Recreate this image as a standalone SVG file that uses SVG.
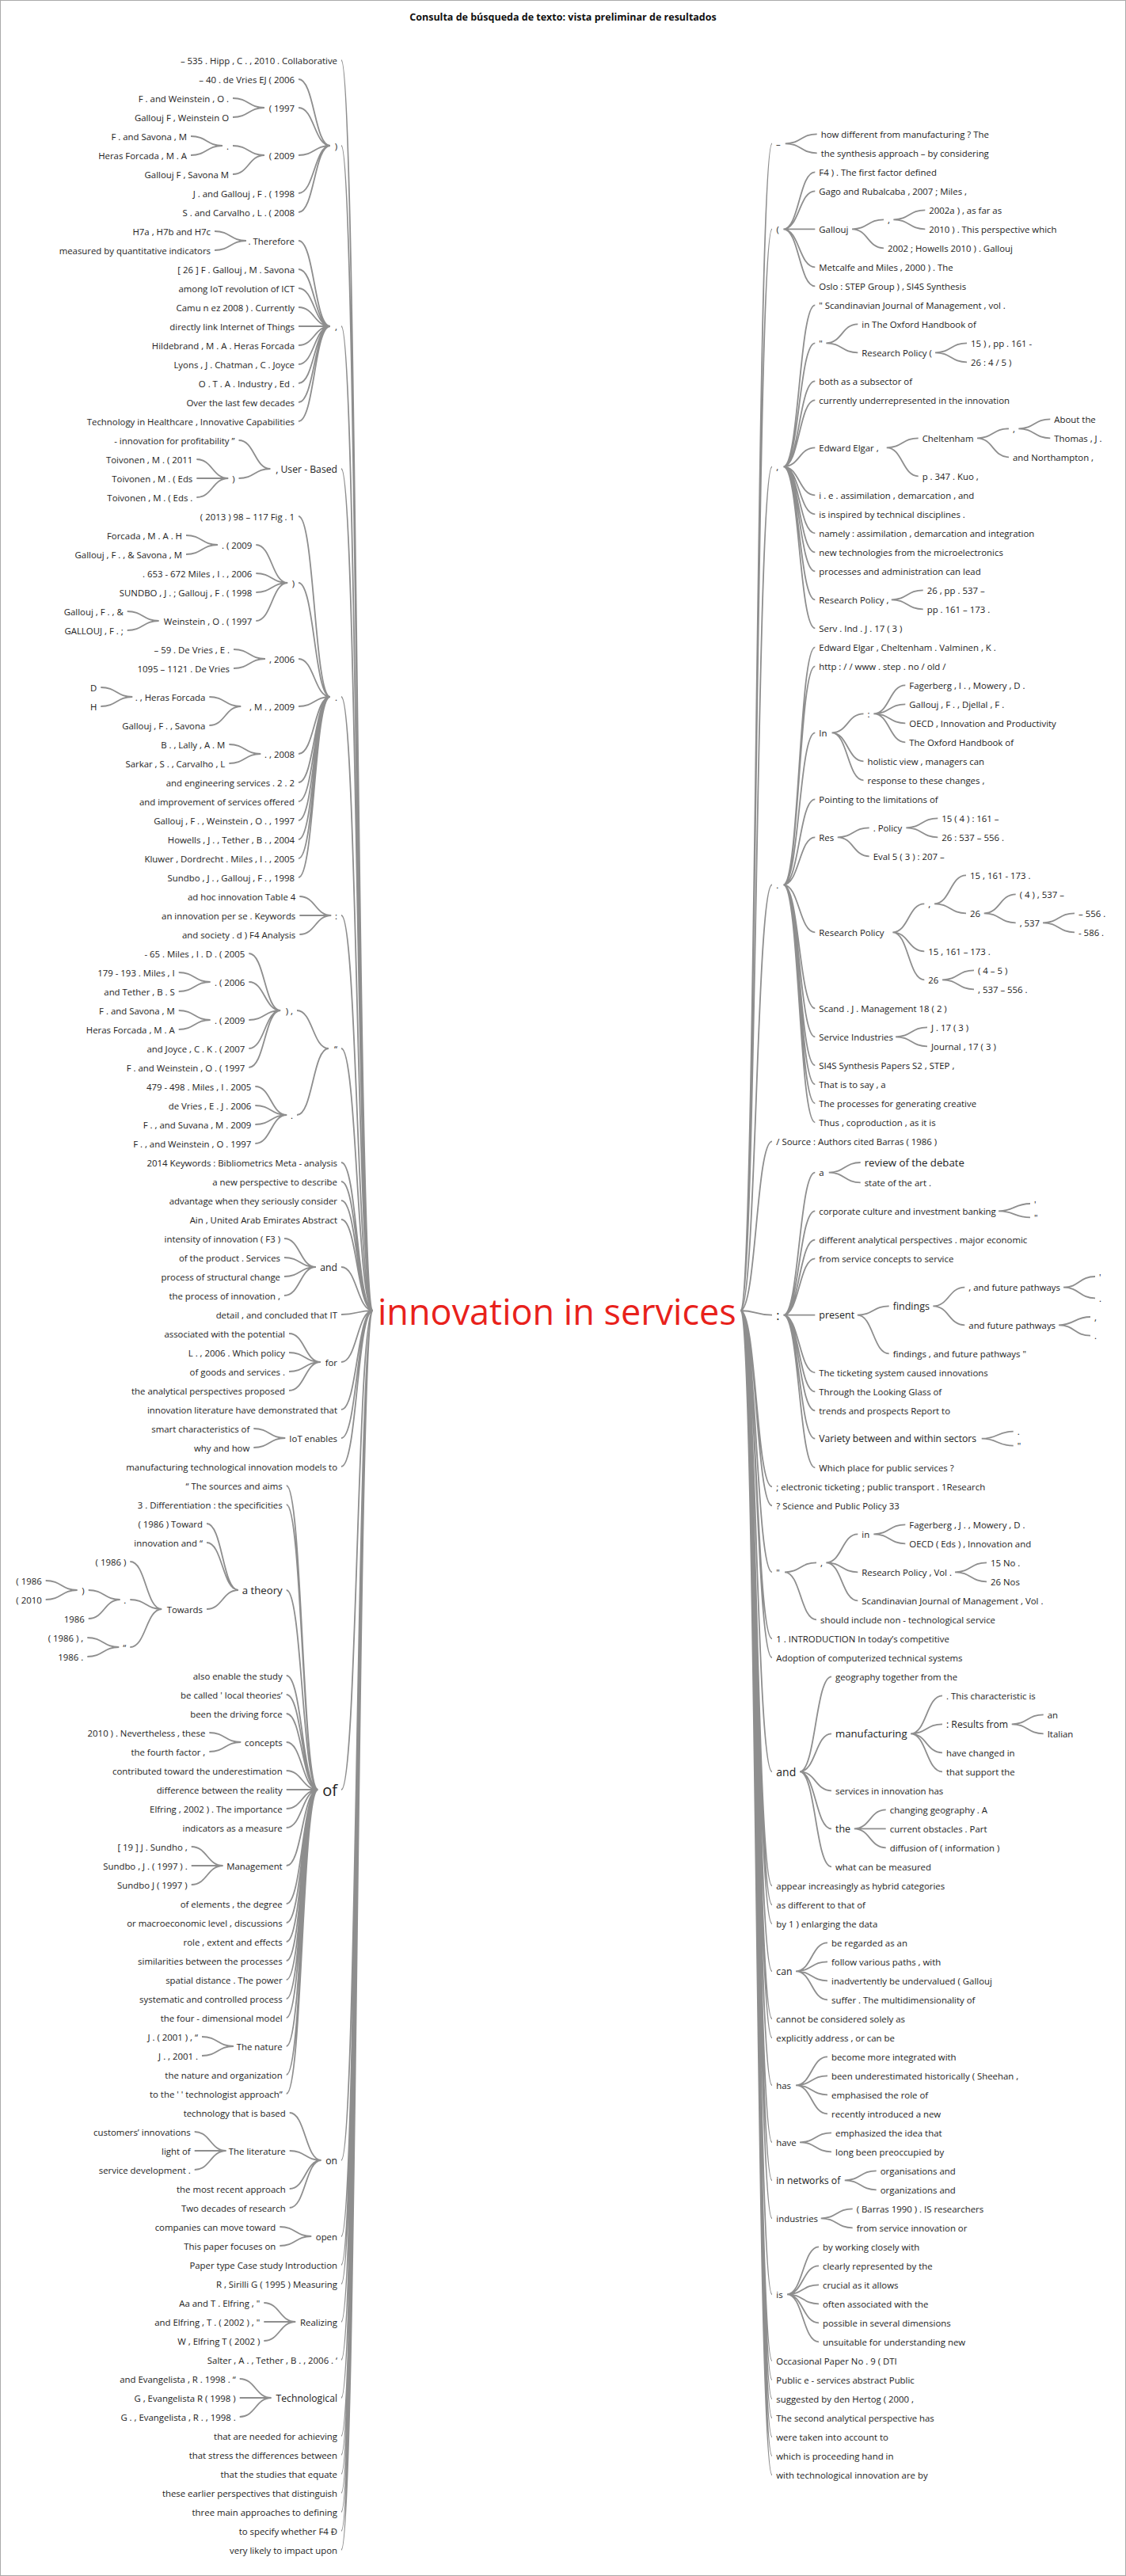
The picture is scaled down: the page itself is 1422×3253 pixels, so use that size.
<svg xmlns="http://www.w3.org/2000/svg" width="1422" height="3253" viewBox="0 0 1422 3253">
<style>
text{font-family:"Open Sans","Noto Sans",sans-serif;font-size:11.4px;fill:#222;dominant-baseline:central}
.e{text-anchor:end}
.t{font-weight:bold;font-size:12.5px;text-anchor:middle;fill:#111}
.root{font-size:45px;fill:#e8211b}
.f12{font-size:12.2px}.f125{font-size:12.5px}.f13{font-size:13.2px}.f14{font-size:14px}.f16{font-size:16px}.f20{font-size:20px}
#connectors path{fill:none;stroke:#8e8e8e;stroke-width:1.8}
</style>
<rect x="0.5" y="0.5" width="1421" height="3252" fill="#fff" stroke="#aaa"/>
<text class="t" x="711" y="21">Consulta de búsqueda de texto: vista preliminar de resultados</text>
<g id="connectors">
<path d="M431 76C451 76 451 1655 471 1655M431 184C451 184 451 1655 471 1655M431 412C451 412 451 1655 471 1655M431 592C451 592 451 1655 471 1655M431 880C451 880 451 1655 471 1655M431 1156C451 1156 451 1655 471 1655M431 1324C451 1324 451 1655 471 1655M431 1468C451 1468 451 1655 471 1655M431 1492C451 1492 451 1655 471 1655M431 1516C451 1516 451 1655 471 1655M431 1540C451 1540 451 1655 471 1655M431 1600C451 1600 451 1655 471 1655M431 1660C451 1660 451 1655 471 1655M431 1720C451 1720 451 1655 471 1655M431 1780C451 1780 451 1655 471 1655M431 1816C451 1816 451 1655 471 1655M431 1852C451 1852 451 1655 471 1655M431 2260C451 2260 451 1655 471 1655M431 2728C451 2728 451 1655 471 1655M431 2824C451 2824 451 1655 471 1655M431 2860C451 2860 451 1655 471 1655M431 2884C451 2884 451 1655 471 1655M431 2932C451 2932 451 1655 471 1655M431 2980C451 2980 451 1655 471 1655M431 3028C451 3028 451 1655 471 1655M431 3076C451 3076 451 1655 471 1655M431 3100C451 3100 451 1655 471 1655M431 3124C451 3124 451 1655 471 1655M431 3148C451 3148 451 1655 471 1655M431 3172C451 3172 451 1655 471 1655M431 3196C451 3196 451 1655 471 1655M431 3220C451 3220 451 1655 471 1655"/>
<path d="M377 100C397 100 397 184 417 184M377 136C397 136 397 184 417 184M377 196C397 196 397 184 417 184M377 244C397 244 397 184 417 184M377 268C397 268 397 184 417 184"/>
<path d="M294 124C314 124 314 136 334 136M294 148C314 148 314 136 334 136M294 184C314 184 314 196 334 196M294 220C314 220 314 196 334 196M241 172C261 172 261 184 281 184M241 196C261 196 261 184 281 184"/>
<path d="M377 304C397 304 397 412 417 412M377 340C397 340 397 412 417 412M377 364C397 364 397 412 417 412M377 388C397 388 397 412 417 412M377 412C397 412 397 412 417 412M377 436C397 436 397 412 417 412M377 460C397 460 397 412 417 412M377 484C397 484 397 412 417 412M377 508C397 508 397 412 417 412M377 532C397 532 397 412 417 412M271 292C291 292 291 304 311 304M271 316C291 316 291 304 311 304"/>
<path d="M301.5 556C321.5 556 321.5 592 341.5 592M301.5 604C321.5 604 321.5 592 341.5 592M248.3 580C268.3 580 268.3 604 288.3 604M248.3 604C268.3 604 268.3 604 288.3 604M248.3 628C268.3 628 268.3 604 288.3 604"/>
<path d="M377 652C397 652 397 880 417 880M377 736C397 736 397 880 417 880M377 832C397 832 397 880 417 880M377 892C397 892 397 880 417 880M377 952C397 952 397 880 417 880M377 988C397 988 397 880 417 880M377 1012C397 1012 397 880 417 880M377 1036C397 1036 397 880 417 880M377 1060C397 1060 397 880 417 880M377 1084C397 1084 397 880 417 880M377 1108C397 1108 397 880 417 880"/>
<path d="M323.3 688C343.3 688 343.3 736 363.3 736M323.3 724C343.3 724 343.3 736 363.3 736M323.3 748C343.3 748 343.3 736 363.3 736M323.3 784C343.3 784 343.3 736 363.3 736M235 676C255 676 255 688 275 688M235 700C255 700 255 688 275 688M160.7 772C180.7 772 180.7 784 200.7 784M160.7 796C180.7 796 180.7 784 200.7 784"/>
<path d="M295 820C315 820 315 832 335 832M295 844C315 844 315 832 335 832M264.3 880C284.3 880 284.3 892 304.3 892M264.3 916C284.3 916 284.3 892 304.3 892M127.3 868C147.3 868 147.3 880 167.3 880M127.3 892C147.3 892 147.3 880 167.3 880M289.3 940C309.3 940 309.3 952 329.3 952M289.3 964C309.3 964 309.3 952 329.3 952"/>
<path d="M378.3 1132C398.3 1132 398.3 1156 418.3 1156M378.3 1156C398.3 1156 398.3 1156 418.3 1156M378.3 1180C398.3 1180 398.3 1156 418.3 1156"/>
<path d="M375 1276C395 1276 395 1324 415 1324M375 1408C395 1408 395 1324 415 1324M314.3 1204C334.3 1204 334.3 1276 354.3 1276M314.3 1240C334.3 1240 334.3 1276 354.3 1276M314.3 1288C334.3 1288 334.3 1276 354.3 1276M314.3 1324C334.3 1324 334.3 1276 354.3 1276M314.3 1348C334.3 1348 334.3 1276 354.3 1276M225.7 1228C245.7 1228 245.7 1240 265.7 1240M225.7 1252C245.7 1252 245.7 1240 265.7 1240M225.7 1276C245.7 1276 245.7 1288 265.7 1288M225.7 1300C245.7 1300 245.7 1288 265.7 1288M322.3 1372C342.3 1372 342.3 1408 362.3 1408M322.3 1396C342.3 1396 342.3 1408 362.3 1408M322.3 1420C342.3 1420 342.3 1408 362.3 1408M322.3 1444C342.3 1444 342.3 1408 362.3 1408"/>
<path d="M359 1564C379 1564 379 1600 399 1600M359 1588C379 1588 379 1600 399 1600M359 1612C379 1612 379 1600 399 1600M359 1636C379 1636 379 1600 399 1600M365 1684C385 1684 385 1720 405 1720M365 1708C385 1708 385 1720 405 1720M365 1732C385 1732 385 1720 405 1720M365 1756C385 1756 385 1720 405 1720M320.3 1804C340.3 1804 340.3 1816 360.3 1816M320.3 1828C340.3 1828 340.3 1816 360.3 1816"/>
<path d="M361.7 1876C381.7 1876 381.7 2260 401.7 2260M361.7 1900C381.7 1900 381.7 2260 401.7 2260M361.7 2008C381.7 2008 381.7 2260 401.7 2260M361.7 2116C381.7 2116 381.7 2260 401.7 2260M361.7 2140C381.7 2140 381.7 2260 401.7 2260M361.7 2164C381.7 2164 381.7 2260 401.7 2260M361.7 2200C381.7 2200 381.7 2260 401.7 2260M361.7 2236C381.7 2236 381.7 2260 401.7 2260M361.7 2260C381.7 2260 381.7 2260 401.7 2260M361.7 2284C381.7 2284 381.7 2260 401.7 2260M361.7 2308C381.7 2308 381.7 2260 401.7 2260M361.7 2356C381.7 2356 381.7 2260 401.7 2260M361.7 2404C381.7 2404 381.7 2260 401.7 2260M361.7 2428C381.7 2428 381.7 2260 401.7 2260M361.7 2452C381.7 2452 381.7 2260 401.7 2260M361.7 2476C381.7 2476 381.7 2260 401.7 2260M361.7 2500C381.7 2500 381.7 2260 401.7 2260M361.7 2524C381.7 2524 381.7 2260 401.7 2260M361.7 2548C381.7 2548 381.7 2260 401.7 2260M361.7 2584C381.7 2584 381.7 2260 401.7 2260M361.7 2620C381.7 2620 381.7 2260 401.7 2260M361.7 2644C381.7 2644 381.7 2260 401.7 2260"/>
<path d="M261 1924C281 1924 281 2008 301 2008M261 1948C281 1948 281 2008 301 2008M261 2032C281 2032 281 2008 301 2008M164.3 1972C184.3 1972 184.3 2032 204.3 2032M164.3 2020C184.3 2020 184.3 2032 204.3 2032M164.3 2080C184.3 2080 184.3 2032 204.3 2032M111.7 2008C131.7 2008 131.7 2020 151.7 2020M111.7 2044C131.7 2044 131.7 2020 151.7 2020M57.7 1996C77.7 1996 77.7 2008 97.7 2008M57.7 2020C77.7 2020 77.7 2008 97.7 2008M110.3 2068C130.3 2068 130.3 2080 150.3 2080M110.3 2092C130.3 2092 130.3 2080 150.3 2080"/>
<path d="M264.3 2188C284.3 2188 284.3 2200 304.3 2200M264.3 2212C284.3 2212 284.3 2200 304.3 2200M241.7 2332C261.7 2332 261.7 2356 281.7 2356M241.7 2356C261.7 2356 261.7 2356 281.7 2356M241.7 2380C261.7 2380 261.7 2356 281.7 2356M255 2572C275 2572 275 2584 295 2584M255 2596C275 2596 275 2584 295 2584"/>
<path d="M365.7 2668C385.7 2668 385.7 2728 405.7 2728M365.7 2716C385.7 2716 385.7 2728 405.7 2728M365.7 2764C385.7 2764 385.7 2728 405.7 2728M365.7 2788C385.7 2788 385.7 2728 405.7 2728M245.7 2692C265.7 2692 265.7 2716 285.7 2716M245.7 2716C265.7 2716 265.7 2716 285.7 2716M245.7 2740C265.7 2740 265.7 2716 285.7 2716M353.3 2812C373.3 2812 373.3 2824 393.3 2824M353.3 2836C373.3 2836 373.3 2824 393.3 2824M333.3 2908C353.3 2908 353.3 2932 373.3 2932M333.3 2932C353.3 2932 353.3 2932 373.3 2932M333.3 2956C353.3 2956 353.3 2932 373.3 2932M302.7 3004C322.7 3004 322.7 3028 342.7 3028M302.7 3028C322.7 3028 322.7 3028 342.7 3028M302.7 3052C322.7 3052 322.7 3028 342.7 3028"/>
<path d="M935 1655C955 1655 955 181.3 975 181.3M935 1655C955 1655 955 289.3 975 289.3M935 1655C955 1655 955 589.3 975 589.3M935 1655C955 1655 955 1117.3 975 1117.3M935 1655C955 1655 955 1441.3 975 1441.3M935 1655C955 1655 955 1660.7 975 1660.7M935 1655C955 1655 955 1877.3 975 1877.3M935 1655C955 1655 955 1901.3 975 1901.3M935 1655C955 1655 955 1985.3 975 1985.3M935 1655C955 1655 955 2069.3 975 2069.3M935 1655C955 1655 955 2093.3 975 2093.3M935 1655C955 1655 955 2237.3 975 2237.3M935 1655C955 1655 955 2381.3 975 2381.3M935 1655C955 1655 955 2405.3 975 2405.3M935 1655C955 1655 955 2429.3 975 2429.3M935 1655C955 1655 955 2489.3 975 2489.3M935 1655C955 1655 955 2549.3 975 2549.3M935 1655C955 1655 955 2573.3 975 2573.3M935 1655C955 1655 955 2633.3 975 2633.3M935 1655C955 1655 955 2705.3 975 2705.3M935 1655C955 1655 955 2753.3 975 2753.3M935 1655C955 1655 955 2801.3 975 2801.3M935 1655C955 1655 955 2897.3 975 2897.3M935 1655C955 1655 955 2981.3 975 2981.3M935 1655C955 1655 955 3005.3 975 3005.3M935 1655C955 1655 955 3029.3 975 3029.3M935 1655C955 1655 955 3053.3 975 3053.3M935 1655C955 1655 955 3077.3 975 3077.3M935 1655C955 1655 955 3101.3 975 3101.3M935 1655C955 1655 955 3125.3 975 3125.3"/>
<path d="M991.7 181.3C1011.7 181.3 1011.7 169.3 1031.7 169.3M991.7 181.3C1011.7 181.3 1011.7 193.3 1031.7 193.3M989.3 289.3C1009.3 289.3 1009.3 217.3 1029.3 217.3M989.3 289.3C1009.3 289.3 1009.3 241.3 1029.3 241.3M989.3 289.3C1009.3 289.3 1009.3 289.3 1029.3 289.3M989.3 289.3C1009.3 289.3 1009.3 337.3 1029.3 337.3M989.3 289.3C1009.3 289.3 1009.3 361.3 1029.3 361.3M1076 289.3C1096 289.3 1096 277.3 1116 277.3M1076 289.3C1096 289.3 1096 313.3 1116 313.3M1128.3 277.3C1148.3 277.3 1148.3 265.3 1168.3 265.3M1128.3 277.3C1148.3 277.3 1148.3 289.3 1168.3 289.3"/>
<path d="M989.3 589.3C1009.3 589.3 1009.3 385.3 1029.3 385.3M989.3 589.3C1009.3 589.3 1009.3 433.3 1029.3 433.3M989.3 589.3C1009.3 589.3 1009.3 481.3 1029.3 481.3M989.3 589.3C1009.3 589.3 1009.3 505.3 1029.3 505.3M989.3 589.3C1009.3 589.3 1009.3 565.3 1029.3 565.3M989.3 589.3C1009.3 589.3 1009.3 625.3 1029.3 625.3M989.3 589.3C1009.3 589.3 1009.3 649.3 1029.3 649.3M989.3 589.3C1009.3 589.3 1009.3 673.3 1029.3 673.3M989.3 589.3C1009.3 589.3 1009.3 697.3 1029.3 697.3M989.3 589.3C1009.3 589.3 1009.3 721.3 1029.3 721.3M989.3 589.3C1009.3 589.3 1009.3 757.3 1029.3 757.3M989.3 589.3C1009.3 589.3 1009.3 793.3 1029.3 793.3M1043.3 433.3C1063.3 433.3 1063.3 409.3 1083.3 409.3M1043.3 433.3C1063.3 433.3 1063.3 445.3 1083.3 445.3M1181 445.3C1201 445.3 1201 433.3 1221 433.3M1181 445.3C1201 445.3 1201 457.3 1221 457.3M1119.7 565.3C1139.7 565.3 1139.7 553.3 1159.7 553.3M1119.7 565.3C1139.7 565.3 1139.7 601.3 1159.7 601.3M1234 553.3C1254 553.3 1254 541.3 1274 541.3M1234 553.3C1254 553.3 1254 577.3 1274 577.3M1286.3 541.3C1306.3 541.3 1306.3 529.3 1326.3 529.3M1286.3 541.3C1306.3 541.3 1306.3 553.3 1326.3 553.3M1125.7 757.3C1145.7 757.3 1145.7 745.3 1165.7 745.3M1125.7 757.3C1145.7 757.3 1145.7 769.3 1165.7 769.3"/>
<path d="M989.3 1117.3C1009.3 1117.3 1009.3 817.3 1029.3 817.3M989.3 1117.3C1009.3 1117.3 1009.3 841.3 1029.3 841.3M989.3 1117.3C1009.3 1117.3 1009.3 925.3 1029.3 925.3M989.3 1117.3C1009.3 1117.3 1009.3 1009.3 1029.3 1009.3M989.3 1117.3C1009.3 1117.3 1009.3 1057.3 1029.3 1057.3M989.3 1117.3C1009.3 1117.3 1009.3 1177.3 1029.3 1177.3M989.3 1117.3C1009.3 1117.3 1009.3 1273.3 1029.3 1273.3M989.3 1117.3C1009.3 1117.3 1009.3 1309.3 1029.3 1309.3M989.3 1117.3C1009.3 1117.3 1009.3 1345.3 1029.3 1345.3M989.3 1117.3C1009.3 1117.3 1009.3 1369.3 1029.3 1369.3M989.3 1117.3C1009.3 1117.3 1009.3 1393.3 1029.3 1393.3M989.3 1117.3C1009.3 1117.3 1009.3 1417.3 1029.3 1417.3"/>
<path d="M1050.5 925.3C1070.5 925.3 1070.5 901.3 1090.5 901.3M1050.5 925.3C1070.5 925.3 1070.5 961.3 1090.5 961.3M1050.5 925.3C1070.5 925.3 1070.5 985.3 1090.5 985.3M1103.3 901.3C1123.3 901.3 1123.3 865.3 1143.3 865.3M1103.3 901.3C1123.3 901.3 1123.3 889.3 1143.3 889.3M1103.3 901.3C1123.3 901.3 1123.3 913.3 1143.3 913.3M1103.3 901.3C1123.3 901.3 1123.3 937.3 1143.3 937.3M1057.7 1057.3C1077.7 1057.3 1077.7 1045.3 1097.7 1045.3M1057.7 1057.3C1077.7 1057.3 1077.7 1081.3 1097.7 1081.3M1144.3 1045.3C1164.3 1045.3 1164.3 1033.3 1184.3 1033.3M1144.3 1045.3C1164.3 1045.3 1164.3 1057.3 1184.3 1057.3"/>
<path d="M1127.3 1177.3C1147.3 1177.3 1147.3 1141.3 1167.3 1141.3M1127.3 1177.3C1147.3 1177.3 1147.3 1201.3 1167.3 1201.3M1127.3 1177.3C1147.3 1177.3 1147.3 1237.3 1167.3 1237.3M1180 1141.3C1200 1141.3 1200 1105.3 1220 1105.3M1180 1141.3C1200 1141.3 1200 1153.3 1220 1153.3M1242.7 1153.3C1262.7 1153.3 1262.7 1129.3 1282.7 1129.3M1242.7 1153.3C1262.7 1153.3 1262.7 1165.3 1282.7 1165.3M1317 1165.3C1337 1165.3 1337 1153.3 1357 1153.3M1317 1165.3C1337 1165.3 1337 1177.3 1357 1177.3M1190 1237.3C1210 1237.3 1210 1225.3 1230 1225.3M1190 1237.3C1210 1237.3 1210 1249.3 1230 1249.3M1131 1309.3C1151 1309.3 1151 1297.3 1171 1297.3M1131 1309.3C1151 1309.3 1151 1321.3 1171 1321.3"/>
<path d="M989.3 1660.7C1009.3 1660.7 1009.3 1480.7 1029.3 1480.7M989.3 1660.7C1009.3 1660.7 1009.3 1529.3 1029.3 1529.3M989.3 1660.7C1009.3 1660.7 1009.3 1565.7 1029.3 1565.7M989.3 1660.7C1009.3 1660.7 1009.3 1589.3 1029.3 1589.3M989.3 1660.7C1009.3 1660.7 1009.3 1660.7 1029.3 1660.7M989.3 1660.7C1009.3 1660.7 1009.3 1733.3 1029.3 1733.3M989.3 1660.7C1009.3 1660.7 1009.3 1757.3 1029.3 1757.3M989.3 1660.7C1009.3 1660.7 1009.3 1781.3 1029.3 1781.3M989.3 1660.7C1009.3 1660.7 1009.3 1816.7 1029.3 1816.7M989.3 1660.7C1009.3 1660.7 1009.3 1853.3 1029.3 1853.3M1046.7 1480.7C1066.7 1480.7 1066.7 1468 1086.7 1468M1046.7 1480.7C1066.7 1480.7 1066.7 1493.3 1086.7 1493.3M1261 1529.3C1281 1529.3 1281 1520 1301 1520M1261 1529.3C1281 1529.3 1281 1537.3 1301 1537.3"/>
<path d="M1082.7 1660.7C1102.7 1660.7 1102.7 1649.3 1122.7 1649.3M1082.7 1660.7C1102.7 1660.7 1102.7 1709.3 1122.7 1709.3M1178.3 1649.3C1198.3 1649.3 1198.3 1625.7 1218.3 1625.7M1178.3 1649.3C1198.3 1649.3 1198.3 1673.3 1218.3 1673.3M1343 1625.7C1363 1625.7 1363 1612 1383 1612M1343 1625.7C1363 1625.7 1363 1639.3 1383 1639.3M1337 1673.3C1357 1673.3 1357 1663 1377 1663M1337 1673.3C1357 1673.3 1357 1686.7 1377 1686.7M1239.7 1816.7C1259.7 1816.7 1259.7 1807.7 1279.7 1807.7M1239.7 1816.7C1259.7 1816.7 1259.7 1825.7 1279.7 1825.7"/>
<path d="M991 1985.3C1011 1985.3 1011 1973.3 1031 1973.3M991 1985.3C1011 1985.3 1011 2045.3 1031 2045.3M1043.3 1973.3C1063.3 1973.3 1063.3 1937.3 1083.3 1937.3M1043.3 1973.3C1063.3 1973.3 1063.3 1985.3 1083.3 1985.3M1043.3 1973.3C1063.3 1973.3 1063.3 2021.3 1083.3 2021.3M1103.3 1937.3C1123.3 1937.3 1123.3 1925.3 1143.3 1925.3M1103.3 1937.3C1123.3 1937.3 1123.3 1949.3 1143.3 1949.3M1206 1985.3C1226 1985.3 1226 1973.3 1246 1973.3M1206 1985.3C1226 1985.3 1226 1997.3 1246 1997.3"/>
<path d="M1010 2237.3C1030 2237.3 1030 2117.3 1050 2117.3M1010 2237.3C1030 2237.3 1030 2189.3 1050 2189.3M1010 2237.3C1030 2237.3 1030 2261.3 1050 2261.3M1010 2237.3C1030 2237.3 1030 2309.3 1050 2309.3M1010 2237.3C1030 2237.3 1030 2357.3 1050 2357.3M1150 2189.3C1170 2189.3 1170 2141.3 1190 2141.3M1150 2189.3C1170 2189.3 1170 2177.3 1190 2177.3M1150 2189.3C1170 2189.3 1170 2213.3 1190 2213.3M1150 2189.3C1170 2189.3 1170 2237.3 1190 2237.3M1277.7 2177.3C1297.7 2177.3 1297.7 2165.3 1317.7 2165.3M1277.7 2177.3C1297.7 2177.3 1297.7 2189.3 1317.7 2189.3M1078.7 2309.3C1098.7 2309.3 1098.7 2285.3 1118.7 2285.3M1078.7 2309.3C1098.7 2309.3 1098.7 2309.3 1118.7 2309.3M1078.7 2309.3C1098.7 2309.3 1098.7 2333.3 1118.7 2333.3"/>
<path d="M1005 2489.3C1025 2489.3 1025 2453.3 1045 2453.3M1005 2489.3C1025 2489.3 1025 2477.3 1045 2477.3M1005 2489.3C1025 2489.3 1025 2501.3 1045 2501.3M1005 2489.3C1025 2489.3 1025 2525.3 1045 2525.3M1005 2633.3C1025 2633.3 1025 2597.3 1045 2597.3M1005 2633.3C1025 2633.3 1025 2621.3 1045 2621.3M1005 2633.3C1025 2633.3 1025 2645.3 1045 2645.3M1005 2633.3C1025 2633.3 1025 2669.3 1045 2669.3M1010 2705.3C1030 2705.3 1030 2693.3 1050 2693.3M1010 2705.3C1030 2705.3 1030 2717.3 1050 2717.3M1066.7 2753.3C1086.7 2753.3 1086.7 2741.3 1106.7 2741.3M1066.7 2753.3C1086.7 2753.3 1086.7 2765.3 1106.7 2765.3M1036.7 2801.3C1056.7 2801.3 1056.7 2789.3 1076.7 2789.3M1036.7 2801.3C1056.7 2801.3 1056.7 2813.3 1076.7 2813.3M994 2897.3C1014 2897.3 1014 2837.3 1034 2837.3M994 2897.3C1014 2897.3 1014 2861.3 1034 2861.3M994 2897.3C1014 2897.3 1014 2885.3 1034 2885.3M994 2897.3C1014 2897.3 1014 2909.3 1034 2909.3M994 2897.3C1014 2897.3 1014 2933.3 1034 2933.3M994 2897.3C1014 2897.3 1014 2957.3 1034 2957.3"/>
</g>
<g id="root"><text class="root" x="477" y="1655">innovation in services</text></g>
<g id="left">
<g id="L1"><text class="e" x="426" y="76">– 535 . Hipp , C . , 2010 . Collaborative</text></g>
<g id="L2"><text class="e" x="426" y="184">)</text></g>
<g id="L2a"><text class="e" x="372" y="100">– 40 . de Vries EJ ( 2006</text></g>
<g id="L2b"><text class="e" x="372" y="136">( 1997</text></g>
<g id="L2b1"><text class="e" x="289" y="124">F . and Weinstein , O .</text></g>
<g id="L2b2"><text class="e" x="289" y="148">Gallouj F , Weinstein O</text></g>
<g id="L2c"><text class="e" x="372" y="196">( 2009</text></g>
<g id="L2c1"><text class="e" x="289" y="184">.</text></g>
<g id="L2c1a"><text class="e" x="236" y="172">F . and Savona , M</text></g>
<g id="L2c1b"><text class="e" x="236" y="196">Heras Forcada , M . A</text></g>
<g id="L2c2"><text class="e" x="289" y="220">Gallouj F , Savona M</text></g>
<g id="L2d"><text class="e" x="372" y="244">J . and Gallouj , F . ( 1998</text></g>
<g id="L2e"><text class="e" x="372" y="268">S . and Carvalho , L . ( 2008</text></g>
<g id="L3"><text class="e" x="426" y="412">,</text></g>
<g id="L3a"><text class="e" x="372" y="304">. Therefore</text></g>
<g id="L3a1"><text class="e" x="266" y="292">H7a , H7b and H7c</text></g>
<g id="L3a2"><text class="e" x="266" y="316">measured by quantitative indicators</text></g>
<g id="L3b"><text class="e" x="372" y="340">[ 26 ] F . Gallouj , M . Savona</text></g>
<g id="L3c"><text class="e" x="372" y="364">among IoT revolution of ICT</text></g>
<g id="L3d"><text class="e" x="372" y="388">Camu n ez 2008 ) . Currently</text></g>
<g id="L3e"><text class="e" x="372" y="412">directly link Internet of Things</text></g>
<g id="L3f"><text class="e" x="372" y="436">Hildebrand , M . A . Heras Forcada</text></g>
<g id="L3g"><text class="e" x="372" y="460">Lyons , J . Chatman , C . Joyce</text></g>
<g id="L3h"><text class="e" x="372" y="484">O . T . A . Industry , Ed .</text></g>
<g id="L3i"><text class="e" x="372" y="508">Over the last few decades</text></g>
<g id="L3j"><text class="e" x="372" y="532">Technology in Healthcare , Innovative Capabilities</text></g>
<g id="L4"><text class="e f12" x="426" y="592">, User - Based</text></g>
<g id="L4a"><text class="e" x="296.5" y="556">- innovation for profitability ”</text></g>
<g id="L4b"><text class="e" x="296.5" y="604">)</text></g>
<g id="L4b1"><text class="e" x="243.3" y="580">Toivonen , M . ( 2011</text></g>
<g id="L4b2"><text class="e" x="243.3" y="604">Toivonen , M . ( Eds</text></g>
<g id="L4b3"><text class="e" x="243.3" y="628">Toivonen , M . ( Eds .</text></g>
<g id="L5"><text class="e" x="426" y="880">.</text></g>
<g id="L5a"><text class="e" x="372" y="652">( 2013 ) 98 – 117 Fig . 1</text></g>
<g id="L5b"><text class="e" x="372" y="736">)</text></g>
<g id="L5b1"><text class="e" x="318.3" y="688">. ( 2009</text></g>
<g id="L5b1a"><text class="e" x="230" y="676">Forcada , M . A . H</text></g>
<g id="L5b1b"><text class="e" x="230" y="700">Gallouj , F . , &amp; Savona , M</text></g>
<g id="L5b2"><text class="e" x="318.3" y="724">. 653 - 672 Miles , I . , 2006</text></g>
<g id="L5b3"><text class="e" x="318.3" y="748">SUNDBO , J . ; Gallouj , F . ( 1998</text></g>
<g id="L5b4"><text class="e" x="318.3" y="784">Weinstein , O . ( 1997</text></g>
<g id="L5b4a"><text class="e" x="155.7" y="772">Gallouj , F . , &amp;</text></g>
<g id="L5b4b"><text class="e" x="155.7" y="796">GALLOUJ , F . ;</text></g>
<g id="L5c"><text class="e" x="372" y="832">, 2006</text></g>
<g id="L5c1"><text class="e" x="290" y="820">– 59 . De Vries , E .</text></g>
<g id="L5c2"><text class="e" x="290" y="844">1095 – 1121 . De Vries</text></g>
<g id="L5d"><text class="e" x="372" y="892">, M . , 2009</text></g>
<g id="L5d1"><text class="e" x="259.3" y="880">. , Heras Forcada</text></g>
<g id="L5d1a"><text class="e" x="122.3" y="868">D</text></g>
<g id="L5d1b"><text class="e" x="122.3" y="892">H</text></g>
<g id="L5d2"><text class="e" x="259.3" y="916">Gallouj , F . , Savona</text></g>
<g id="L5e"><text class="e" x="372" y="952">. , 2008</text></g>
<g id="L5e1"><text class="e" x="284.3" y="940">B . , Lally , A . M</text></g>
<g id="L5e2"><text class="e" x="284.3" y="964">Sarkar , S . , Carvalho , L</text></g>
<g id="L5f"><text class="e" x="372" y="988">and engineering services . 2 . 2</text></g>
<g id="L5g"><text class="e" x="372" y="1012">and improvement of services offered</text></g>
<g id="L5h"><text class="e" x="372" y="1036">Gallouj , F . , Weinstein , O . , 1997</text></g>
<g id="L5i"><text class="e" x="372" y="1060">Howells , J . , Tether , B . , 2004</text></g>
<g id="L5j"><text class="e" x="372" y="1084">Kluwer , Dordrecht . Miles , I . , 2005</text></g>
<g id="L5k"><text class="e" x="372" y="1108">Sundbo , J . , Gallouj , F . , 1998</text></g>
<g id="L6"><text class="e" x="426" y="1156">:</text></g>
<g id="L6a"><text class="e" x="373.3" y="1132">ad hoc innovation Table 4</text></g>
<g id="L6b"><text class="e" x="373.3" y="1156">an innovation per se . Keywords</text></g>
<g id="L6c"><text class="e" x="373.3" y="1180">and society . d ) F4 Analysis</text></g>
<g id="L7"><text class="e" x="426" y="1324">“</text></g>
<g id="L7a"><text class="e" x="370" y="1276">) ,</text></g>
<g id="L7a1"><text class="e" x="309.3" y="1204">- 65 . Miles , I . D . ( 2005</text></g>
<g id="L7a2"><text class="e" x="309.3" y="1240">. ( 2006</text></g>
<g id="L7a2a"><text class="e" x="220.7" y="1228">179 - 193 . Miles , I</text></g>
<g id="L7a2b"><text class="e" x="220.7" y="1252">and Tether , B . S</text></g>
<g id="L7a3"><text class="e" x="309.3" y="1288">. ( 2009</text></g>
<g id="L7a3a"><text class="e" x="220.7" y="1276">F . and Savona , M</text></g>
<g id="L7a3b"><text class="e" x="220.7" y="1300">Heras Forcada , M . A</text></g>
<g id="L7a4"><text class="e" x="309.3" y="1324">and Joyce , C . K . ( 2007</text></g>
<g id="L7a5"><text class="e" x="309.3" y="1348">F . and Weinstein , O . ( 1997</text></g>
<g id="L7b"><text class="e" x="370" y="1408">.</text></g>
<g id="L7b1"><text class="e" x="317.3" y="1372">479 - 498 . Miles , I . 2005</text></g>
<g id="L7b2"><text class="e" x="317.3" y="1396">de Vries , E . J . 2006</text></g>
<g id="L7b3"><text class="e" x="317.3" y="1420">F . , and Suvana , M . 2009</text></g>
<g id="L7b4"><text class="e" x="317.3" y="1444">F . , and Weinstein , O . 1997</text></g>
<g id="L8"><text class="e" x="426" y="1468">2014 Keywords : Bibliometrics Meta - analysis</text></g>
<g id="L9"><text class="e" x="426" y="1492">a new perspective to describe</text></g>
<g id="L10"><text class="e" x="426" y="1516">advantage when they seriously consider</text></g>
<g id="L11"><text class="e" x="426" y="1540">Ain , United Arab Emirates Abstract</text></g>
<g id="L12"><text class="e f12" x="426" y="1600">and</text></g>
<g id="L12a"><text class="e" x="354" y="1564">intensity of innovation ( F3 )</text></g>
<g id="L12b"><text class="e" x="354" y="1588">of the product . Services</text></g>
<g id="L12c"><text class="e" x="354" y="1612">process of structural change</text></g>
<g id="L12d"><text class="e" x="354" y="1636">the process of innovation ,</text></g>
<g id="L13"><text class="e" x="426" y="1660">detail , and concluded that IT</text></g>
<g id="L14"><text class="e" x="426" y="1720">for</text></g>
<g id="L14a"><text class="e" x="360" y="1684">associated with the potential</text></g>
<g id="L14b"><text class="e" x="360" y="1708">L . , 2006 . Which policy</text></g>
<g id="L14c"><text class="e" x="360" y="1732">of goods and services .</text></g>
<g id="L14d"><text class="e" x="360" y="1756">the analytical perspectives proposed</text></g>
<g id="L15"><text class="e" x="426" y="1780">innovation literature have demonstrated that</text></g>
<g id="L16"><text class="e" x="426" y="1816">IoT enables</text></g>
<g id="L16a"><text class="e" x="315.3" y="1804">smart characteristics of</text></g>
<g id="L16b"><text class="e" x="315.3" y="1828">why and how</text></g>
<g id="L17"><text class="e" x="426" y="1852">manufacturing technological innovation models to</text></g>
<g id="L18"><text class="e f20" x="426" y="2260">of</text></g>
<g id="L18a"><text class="e" x="356.7" y="1876">“ The sources and aims</text></g>
<g id="L18b"><text class="e" x="356.7" y="1900">3 . Differentiation : the specificities</text></g>
<g id="L18c"><text class="e f13" x="356.7" y="2008">a theory</text></g>
<g id="L18c1"><text class="e" x="256" y="1924">( 1986 ) Toward</text></g>
<g id="L18c2"><text class="e" x="256" y="1948">innovation and “</text></g>
<g id="L18c3"><text class="e" x="256" y="2032">Towards</text></g>
<g id="L18c3a"><text class="e" x="159.3" y="1972">( 1986 )</text></g>
<g id="L18c3b"><text class="e" x="159.3" y="2020">.</text></g>
<g id="L18c3b1"><text class="e" x="106.7" y="2008">)</text></g>
<g id="L18c3b1a"><text class="e" x="52.7" y="1996">( 1986</text></g>
<g id="L18c3b1b"><text class="e" x="52.7" y="2020">( 2010</text></g>
<g id="L18c3b2"><text class="e" x="106.7" y="2044">1986</text></g>
<g id="L18c3c"><text class="e" x="159.3" y="2080">“</text></g>
<g id="L18c3c1"><text class="e" x="105.3" y="2068">( 1986 ) ,</text></g>
<g id="L18c3c2"><text class="e" x="105.3" y="2092">1986 .</text></g>
<g id="L18d"><text class="e" x="356.7" y="2116">also enable the study</text></g>
<g id="L18e"><text class="e" x="356.7" y="2140">be called ' local theories’</text></g>
<g id="L18f"><text class="e" x="356.7" y="2164">been the driving force</text></g>
<g id="L18g"><text class="e" x="356.7" y="2200">concepts</text></g>
<g id="L18g1"><text class="e" x="259.3" y="2188">2010 ) . Nevertheless , these</text></g>
<g id="L18g2"><text class="e" x="259.3" y="2212">the fourth factor ,</text></g>
<g id="L18h"><text class="e" x="356.7" y="2236">contributed toward the underestimation</text></g>
<g id="L18i"><text class="e" x="356.7" y="2260">difference between the reality</text></g>
<g id="L18j"><text class="e" x="356.7" y="2284">Elfring , 2002 ) . The importance</text></g>
<g id="L18k"><text class="e" x="356.7" y="2308">indicators as a measure</text></g>
<g id="L18l"><text class="e" x="356.7" y="2356">Management</text></g>
<g id="L18l1"><text class="e" x="236.7" y="2332">[ 19 ] J . Sundho ,</text></g>
<g id="L18l2"><text class="e" x="236.7" y="2356">Sundbo , J . ( 1997 ) .</text></g>
<g id="L18l3"><text class="e" x="236.7" y="2380">Sundbo J ( 1997 )</text></g>
<g id="L18m"><text class="e" x="356.7" y="2404">of elements , the degree</text></g>
<g id="L18n"><text class="e" x="356.7" y="2428">or macroeconomic level , discussions</text></g>
<g id="L18o"><text class="e" x="356.7" y="2452">role , extent and effects</text></g>
<g id="L18p"><text class="e" x="356.7" y="2476">similarities between the processes</text></g>
<g id="L18q"><text class="e" x="356.7" y="2500">spatial distance . The power</text></g>
<g id="L18r"><text class="e" x="356.7" y="2524">systematic and controlled process</text></g>
<g id="L18s"><text class="e" x="356.7" y="2548">the four - dimensional model</text></g>
<g id="L18t"><text class="e" x="356.7" y="2584">The nature</text></g>
<g id="L18t1"><text class="e" x="250" y="2572">J . ( 2001 ) , “</text></g>
<g id="L18t2"><text class="e" x="250" y="2596">J . , 2001 .</text></g>
<g id="L18u"><text class="e" x="356.7" y="2620">the nature and organization</text></g>
<g id="L18v"><text class="e" x="356.7" y="2644">to the ' ' technologist approach”</text></g>
<g id="L19"><text class="e f12" x="426" y="2728">on</text></g>
<g id="L19a"><text class="e" x="360.7" y="2668">technology that is based</text></g>
<g id="L19b"><text class="e" x="360.7" y="2716">The literature</text></g>
<g id="L19b1"><text class="e" x="240.7" y="2692">customers’ innovations</text></g>
<g id="L19b2"><text class="e" x="240.7" y="2716">light of</text></g>
<g id="L19b3"><text class="e" x="240.7" y="2740">service development .</text></g>
<g id="L19c"><text class="e" x="360.7" y="2764">the most recent approach</text></g>
<g id="L19d"><text class="e" x="360.7" y="2788">Two decades of research</text></g>
<g id="L20"><text class="e" x="426" y="2824">open</text></g>
<g id="L20a"><text class="e" x="348.3" y="2812">companies can move toward</text></g>
<g id="L20b"><text class="e" x="348.3" y="2836">This paper focuses on</text></g>
<g id="L21"><text class="e" x="426" y="2860">Paper type Case study Introduction</text></g>
<g id="L22"><text class="e" x="426" y="2884">R , Sirilli G ( 1995 ) Measuring</text></g>
<g id="L23"><text class="e" x="426" y="2932">Realizing</text></g>
<g id="L23a"><text class="e" x="328.3" y="2908">Aa and T . Elfring , "</text></g>
<g id="L23b"><text class="e" x="328.3" y="2932">and Elfring , T . ( 2002 ) , "</text></g>
<g id="L23c"><text class="e" x="328.3" y="2956">W , Elfring T ( 2002 )</text></g>
<g id="L24"><text class="e" x="426" y="2980">Salter , A . , Tether , B . , 2006 . ‘</text></g>
<g id="L25"><text class="e f12" x="426" y="3028">Technological</text></g>
<g id="L25a"><text class="e" x="297.7" y="3004">and Evangelista , R . 1998 . “</text></g>
<g id="L25b"><text class="e" x="297.7" y="3028">G , Evangelista R ( 1998 )</text></g>
<g id="L25c"><text class="e" x="297.7" y="3052">G . , Evangelista , R . , 1998 .</text></g>
<g id="L26"><text class="e" x="426" y="3076">that are needed for achieving</text></g>
<g id="L27"><text class="e" x="426" y="3100">that stress the differences between</text></g>
<g id="L28"><text class="e" x="426" y="3124">that the studies that equate</text></g>
<g id="L29"><text class="e" x="426" y="3148">these earlier perspectives that distinguish</text></g>
<g id="L30"><text class="e" x="426" y="3172">three main approaches to defining</text></g>
<g id="L31"><text class="e" x="426" y="3196">to specify whether F4 Ð</text></g>
<g id="L32"><text class="e" x="426" y="3220">very likely to impact upon</text></g>
</g>
<g id="right">
<g id="R1"><text x="980" y="181.3">–</text></g>
<g id="R1a"><text x="1036.7" y="169.3">how different from manufacturing ? The</text></g>
<g id="R1b"><text x="1036.7" y="193.3">the synthesis approach – by considering</text></g>
<g id="R2"><text x="980.5" y="289.3">(</text></g>
<g id="R2a"><text x="1034.3" y="217.3">F4 ) . The first factor defined</text></g>
<g id="R2b"><text x="1034.3" y="241.3">Gago and Rubalcaba , 2007 ; Miles ,</text></g>
<g id="R2c"><text x="1034.3" y="289.3">Gallouj</text></g>
<g id="R2c1"><text x="1121" y="277.3">,</text></g>
<g id="R2c1a"><text x="1173.3" y="265.3">2002a ) , as far as</text></g>
<g id="R2c1b"><text x="1173.3" y="289.3">2010 ) . This perspective which</text></g>
<g id="R2c2"><text x="1121" y="313.3">2002 ; Howells 2010 ) . Gallouj</text></g>
<g id="R2d"><text x="1034.3" y="337.3">Metcalfe and Miles , 2000 ) . The</text></g>
<g id="R2e"><text x="1034.3" y="361.3">Oslo : STEP Group ) , SI4S Synthesis</text></g>
<g id="R3"><text x="980.3" y="589.3">,</text></g>
<g id="R3a"><text x="1034.3" y="385.3">" Scandinavian Journal of Management , vol .</text></g>
<g id="R3b"><text x="1034.3" y="433.3">"</text></g>
<g id="R3b1"><text x="1088.3" y="409.3">in The Oxford Handbook of</text></g>
<g id="R3b2"><text x="1088.3" y="445.3">Research Policy (</text></g>
<g id="R3b2a"><text x="1226" y="433.3">15 ) , pp . 161 -</text></g>
<g id="R3b2b"><text x="1226" y="457.3">26 : 4 / 5 )</text></g>
<g id="R3c"><text x="1034.3" y="481.3">both as a subsector of</text></g>
<g id="R3d"><text x="1034.3" y="505.3">currently underrepresented in the innovation</text></g>
<g id="R3e"><text x="1034.3" y="565.3">Edward Elgar ,</text></g>
<g id="R3e1"><text x="1164.7" y="553.3">Cheltenham</text></g>
<g id="R3e1a"><text x="1279" y="541.3">,</text></g>
<g id="R3e1a1"><text x="1331.3" y="529.3">About the</text></g>
<g id="R3e1a2"><text x="1331.3" y="553.3">Thomas , J .</text></g>
<g id="R3e1b"><text x="1279" y="577.3">and Northampton ,</text></g>
<g id="R3e2"><text x="1164.7" y="601.3">p . 347 . Kuo ,</text></g>
<g id="R3f"><text x="1034.3" y="625.3">i . e . assimilation , demarcation , and</text></g>
<g id="R3g"><text x="1034.3" y="649.3">is inspired by technical disciplines .</text></g>
<g id="R3h"><text x="1034.3" y="673.3">namely : assimilation , demarcation and integration</text></g>
<g id="R3i"><text x="1034.3" y="697.3">new technologies from the microelectronics</text></g>
<g id="R3j"><text x="1034.3" y="721.3">processes and administration can lead</text></g>
<g id="R3k"><text x="1034.3" y="757.3">Research Policy ,</text></g>
<g id="R3k1"><text x="1170.7" y="745.3">26 , pp . 537 –</text></g>
<g id="R3k2"><text x="1170.7" y="769.3">pp . 161 – 173 .</text></g>
<g id="R3l"><text x="1034.3" y="793.3">Serv . Ind . J . 17 ( 3 )</text></g>
<g id="R4"><text x="980.3" y="1117.3">.</text></g>
<g id="R4a"><text x="1034.3" y="817.3">Edward Elgar , Cheltenham . Valminen , K .</text></g>
<g id="R4b"><text x="1034.3" y="841.3">http : / / www . step . no / old /</text></g>
<g id="R4c"><text x="1034.3" y="925.3">In</text></g>
<g id="R4c1"><text x="1095.5" y="901.3">:</text></g>
<g id="R4c1a"><text x="1148.3" y="865.3">Fagerberg , I . , Mowery , D .</text></g>
<g id="R4c1b"><text x="1148.3" y="889.3">Gallouj , F . , Djellal , F .</text></g>
<g id="R4c1c"><text x="1148.3" y="913.3">OECD , Innovation and Productivity</text></g>
<g id="R4c1d"><text x="1148.3" y="937.3">The Oxford Handbook of</text></g>
<g id="R4c2"><text x="1095.5" y="961.3">holistic view , managers can</text></g>
<g id="R4c3"><text x="1095.5" y="985.3">response to these changes ,</text></g>
<g id="R4d"><text x="1034.3" y="1009.3">Pointing to the limitations of</text></g>
<g id="R4e"><text x="1034.3" y="1057.3">Res</text></g>
<g id="R4e1"><text x="1102.7" y="1045.3">. Policy</text></g>
<g id="R4e1a"><text x="1189.3" y="1033.3">15 ( 4 ) : 161 –</text></g>
<g id="R4e1b"><text x="1189.3" y="1057.3">26 : 537 – 556 .</text></g>
<g id="R4e2"><text x="1102.7" y="1081.3">Eval 5 ( 3 ) : 207 –</text></g>
<g id="R4f"><text x="1034.3" y="1177.3">Research Policy</text></g>
<g id="R4f1"><text x="1172.3" y="1141.3">,</text></g>
<g id="R4f1a"><text x="1225" y="1105.3">15 , 161 - 173 .</text></g>
<g id="R4f1b"><text x="1225" y="1153.3">26</text></g>
<g id="R4f1b1"><text x="1287.7" y="1129.3">( 4 ) , 537 –</text></g>
<g id="R4f1b2"><text x="1287.7" y="1165.3">, 537</text></g>
<g id="R4f1b2a"><text x="1362" y="1153.3">– 556 .</text></g>
<g id="R4f1b2b"><text x="1362" y="1177.3">- 586 .</text></g>
<g id="R4f2"><text x="1172.3" y="1201.3">15 , 161 – 173 .</text></g>
<g id="R4f3"><text x="1172.3" y="1237.3">26</text></g>
<g id="R4f3a"><text x="1235" y="1225.3">( 4 – 5 )</text></g>
<g id="R4f3b"><text x="1235" y="1249.3">, 537 – 556 .</text></g>
<g id="R4g"><text x="1034.3" y="1273.3">Scand . J . Management 18 ( 2 )</text></g>
<g id="R4h"><text x="1034.3" y="1309.3">Service Industries</text></g>
<g id="R4h1"><text x="1176" y="1297.3">J . 17 ( 3 )</text></g>
<g id="R4h2"><text x="1176" y="1321.3">Journal , 17 ( 3 )</text></g>
<g id="R4i"><text x="1034.3" y="1345.3">SI4S Synthesis Papers S2 , STEP ,</text></g>
<g id="R4j"><text x="1034.3" y="1369.3">That is to say , a</text></g>
<g id="R4k"><text x="1034.3" y="1393.3">The processes for generating creative</text></g>
<g id="R4l"><text x="1034.3" y="1417.3">Thus , coproduction , as it is</text></g>
<g id="R5"><text x="980.3" y="1441.3">/ Source : Authors cited Barras ( 1986 )</text></g>
<g id="R6"><text class="f16" x="980.3" y="1660.7">:</text></g>
<g id="R6a"><text x="1034.3" y="1480.7">a</text></g>
<g id="R6a1"><text class="f13" x="1091.7" y="1468">review of the debate</text></g>
<g id="R6a2"><text x="1091.7" y="1493.3">state of the art .</text></g>
<g id="R6b"><text x="1034.3" y="1529.3">corporate culture and investment banking</text></g>
<g id="R6b1"><text x="1306" y="1520">'</text></g>
<g id="R6b2"><text x="1306" y="1537.3">"</text></g>
<g id="R6c"><text x="1034.3" y="1565.7">different analytical perspectives . major economic</text></g>
<g id="R6d"><text x="1034.3" y="1589.3">from service concepts to service</text></g>
<g id="R6e"><text class="f125" x="1034.3" y="1660.7">present</text></g>
<g id="R6e1"><text class="f125" x="1127.7" y="1649.3">findings</text></g>
<g id="R6e1a"><text x="1223.3" y="1625.7">, and future pathways</text></g>
<g id="R6e1a1"><text x="1388" y="1612">'</text></g>
<g id="R6e1a2"><text x="1388" y="1639.3">.</text></g>
<g id="R6e1b"><text x="1223.3" y="1673.3">and future pathways</text></g>
<g id="R6e1b1"><text x="1382" y="1663">,</text></g>
<g id="R6e1b2"><text x="1382" y="1686.7">.</text></g>
<g id="R6e2"><text x="1127.7" y="1709.3">findings , and future pathways "</text></g>
<g id="R6f"><text x="1034.3" y="1733.3">The ticketing system caused innovations</text></g>
<g id="R6g"><text x="1034.3" y="1757.3">Through the Looking Glass of</text></g>
<g id="R6h"><text x="1034.3" y="1781.3">trends and prospects Report to</text></g>
<g id="R6i"><text class="f12" x="1034.3" y="1816.7">Variety between and within sectors</text></g>
<g id="R6i1"><text x="1284.7" y="1807.7">.</text></g>
<g id="R6i2"><text x="1284.7" y="1825.7">"</text></g>
<g id="R6j"><text x="1034.3" y="1853.3">Which place for public services ?</text></g>
<g id="R7"><text x="980.3" y="1877.3">; electronic ticketing ; public transport . 1Research</text></g>
<g id="R8"><text x="980.3" y="1901.3">? Science and Public Policy 33</text></g>
<g id="R9"><text x="980.3" y="1985.3">"</text></g>
<g id="R9a"><text x="1036" y="1973.3">,</text></g>
<g id="R9a1"><text x="1088.3" y="1937.3">in</text></g>
<g id="R9a1a"><text x="1148.3" y="1925.3">Fagerberg , J . , Mowery , D .</text></g>
<g id="R9a1b"><text x="1148.3" y="1949.3">OECD ( Eds ) , Innovation and</text></g>
<g id="R9a2"><text x="1088.3" y="1985.3">Research Policy , Vol .</text></g>
<g id="R9a2a"><text x="1251" y="1973.3">15 No .</text></g>
<g id="R9a2b"><text x="1251" y="1997.3">26 Nos</text></g>
<g id="R9a3"><text x="1088.3" y="2021.3">Scandinavian Journal of Management , Vol .</text></g>
<g id="R9b"><text x="1036" y="2045.3">should include non - technological service</text></g>
<g id="R10"><text x="980.3" y="2069.3">1 . INTRODUCTION In today’s competitive</text></g>
<g id="R11"><text x="980.3" y="2093.3">Adoption of computerized technical systems</text></g>
<g id="R12"><text class="f14" x="980.3" y="2237.3">and</text></g>
<g id="R12a"><text x="1055" y="2117.3">geography together from the</text></g>
<g id="R12b"><text class="f13" x="1055" y="2189.3">manufacturing</text></g>
<g id="R12b1"><text x="1195" y="2141.3">. This characteristic is</text></g>
<g id="R12b2"><text class="f12" x="1195" y="2177.3">: Results from</text></g>
<g id="R12b2a"><text x="1322.7" y="2165.3">an</text></g>
<g id="R12b2b"><text x="1322.7" y="2189.3">Italian</text></g>
<g id="R12b3"><text x="1195" y="2213.3">have changed in</text></g>
<g id="R12b4"><text x="1195" y="2237.3">that support the</text></g>
<g id="R12c"><text x="1055" y="2261.3">services in innovation has</text></g>
<g id="R12d"><text class="f125" x="1055" y="2309.3">the</text></g>
<g id="R12d1"><text x="1123.7" y="2285.3">changing geography . A</text></g>
<g id="R12d2"><text x="1123.7" y="2309.3">current obstacles . Part</text></g>
<g id="R12d3"><text x="1123.7" y="2333.3">diffusion of ( information )</text></g>
<g id="R12e"><text x="1055" y="2357.3">what can be measured</text></g>
<g id="R13"><text x="980.3" y="2381.3">appear increasingly as hybrid categories</text></g>
<g id="R14"><text x="980.3" y="2405.3">as different to that of</text></g>
<g id="R15"><text x="980.3" y="2429.3">by 1 ) enlarging the data</text></g>
<g id="R16"><text class="f12" x="980.3" y="2489.3">can</text></g>
<g id="R16a"><text x="1050" y="2453.3">be regarded as an</text></g>
<g id="R16b"><text x="1050" y="2477.3">follow various paths , with</text></g>
<g id="R16c"><text x="1050" y="2501.3">inadvertently be undervalued ( Gallouj</text></g>
<g id="R16d"><text x="1050" y="2525.3">suffer . The multidimensionality of</text></g>
<g id="R17"><text x="980.3" y="2549.3">cannot be considered solely as</text></g>
<g id="R18"><text x="980.3" y="2573.3">explicitly address , or can be</text></g>
<g id="R19"><text x="980.3" y="2633.3">has</text></g>
<g id="R19a"><text x="1050" y="2597.3">become more integrated with</text></g>
<g id="R19b"><text x="1050" y="2621.3">been underestimated historically ( Sheehan ,</text></g>
<g id="R19c"><text x="1050" y="2645.3">emphasised the role of</text></g>
<g id="R19d"><text x="1050" y="2669.3">recently introduced a new</text></g>
<g id="R20"><text x="980.3" y="2705.3">have</text></g>
<g id="R20a"><text x="1055" y="2693.3">emphasized the idea that</text></g>
<g id="R20b"><text x="1055" y="2717.3">long been preoccupied by</text></g>
<g id="R21"><text class="f12" x="980.3" y="2753.3">in networks of</text></g>
<g id="R21a"><text x="1111.7" y="2741.3">organisations and</text></g>
<g id="R21b"><text x="1111.7" y="2765.3">organizations and</text></g>
<g id="R22"><text x="980.3" y="2801.3">industries</text></g>
<g id="R22a"><text x="1081.7" y="2789.3">( Barras 1990 ) . IS researchers</text></g>
<g id="R22b"><text x="1081.7" y="2813.3">from service innovation or</text></g>
<g id="R23"><text x="980.3" y="2897.3">is</text></g>
<g id="R23a"><text x="1039" y="2837.3">by working closely with</text></g>
<g id="R23b"><text x="1039" y="2861.3">clearly represented by the</text></g>
<g id="R23c"><text x="1039" y="2885.3">crucial as it allows</text></g>
<g id="R23d"><text x="1039" y="2909.3">often associated with the</text></g>
<g id="R23e"><text x="1039" y="2933.3">possible in several dimensions</text></g>
<g id="R23f"><text x="1039" y="2957.3">unsuitable for understanding new</text></g>
<g id="R24"><text x="980.3" y="2981.3">Occasional Paper No . 9 ( DTI</text></g>
<g id="R25"><text x="980.3" y="3005.3">Public e - services abstract Public</text></g>
<g id="R26"><text x="980.3" y="3029.3">suggested by den Hertog ( 2000 ,</text></g>
<g id="R27"><text x="980.3" y="3053.3">The second analytical perspective has</text></g>
<g id="R28"><text x="980.3" y="3077.3">were taken into account to</text></g>
<g id="R29"><text x="980.3" y="3101.3">which is proceeding hand in</text></g>
<g id="R30"><text x="980.3" y="3125.3">with technological innovation are by</text></g>
</g>
</svg>
